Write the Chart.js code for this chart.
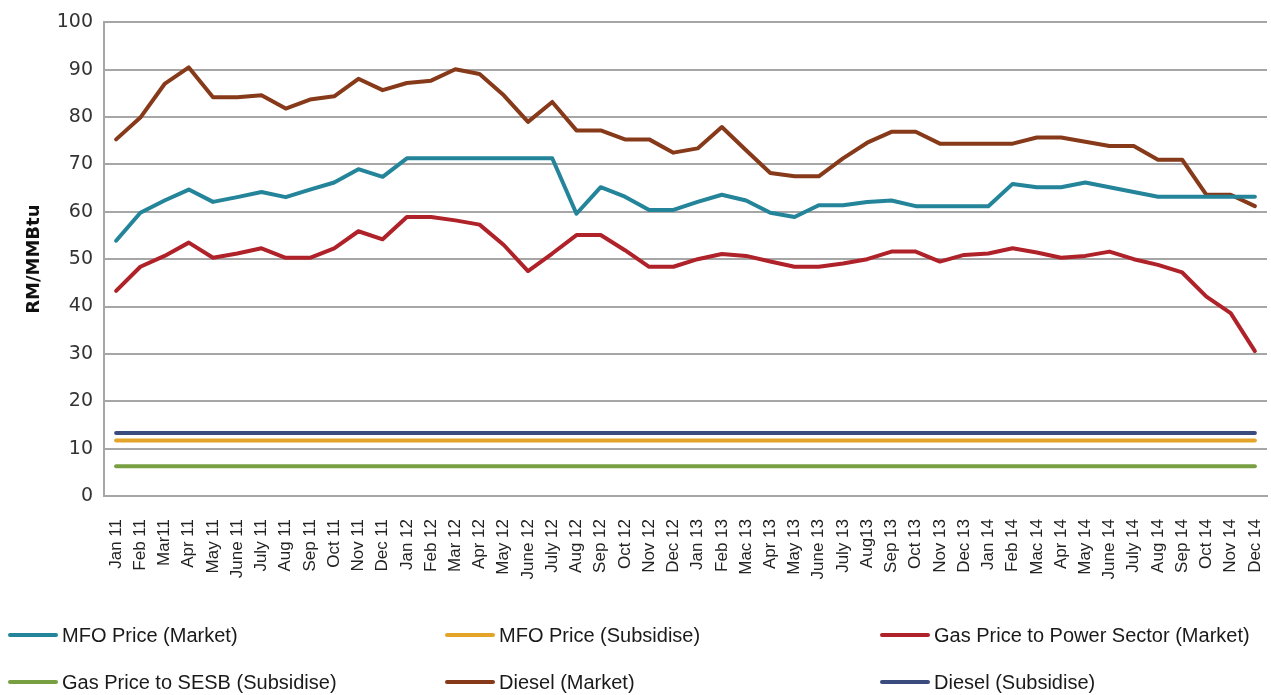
<!DOCTYPE html>
<html>
<head>
<meta charset="utf-8">
<script src="https://cdn.jsdelivr.net/npm/chart.js@4"></script>
<style>
html,body{margin:0;padding:0;background:#fff;}
#wrap{width:1271px;height:695px;}
</style>
</head>
<body>
<div id="wrap"><canvas id="c" width="1271" height="695"></canvas></div>
<script>
const months = ["Jan 11","Feb 11","Mar11","Apr 11","May 11","June 11","July 11","Aug 11","Sep 11","Oct 11","Nov 11","Dec 11",
"Jan 12","Feb 12","Mar 12","Apr 12","May 12","June 12","July 12","Aug 12","Sep 12","Oct 12","Nov 12","Dec 12",
"Jan 13","Feb 13","Mac 13","Apr 13","May 13","June 13","July 13","Aug13","Sep 13","Oct 13","Nov 13","Dec 13",
"Jan 14","Feb 14","Mac 14","Apr 14","May 14","June 14","July 14","Aug 14","Sep 14","Oct 14","Nov 14","Dec 14"];

const mfoMarket = [53.9,59.8,62.4,64.7,62.1,63.1,64.2,63.1,64.7,66.2,69.0,67.4,
71.3,71.3,71.3,71.3,71.3,71.3,71.3,59.6,65.2,63.2,60.4,60.4,
62.1,63.6,62.4,59.8,58.9,61.4,61.4,62.1,62.4,61.2,61.2,61.2,
61.2,65.9,65.2,65.2,66.2,65.2,64.2,63.2,63.2,63.2,63.2,63.2];

const mfoSubsidise = [11.7,11.7,11.7,11.7,11.7,11.7,11.7,11.7,11.7,11.7,11.7,11.7,
11.7,11.7,11.7,11.7,11.7,11.7,11.7,11.7,11.7,11.7,11.7,11.7,
11.7,11.7,11.7,11.7,11.7,11.7,11.7,11.7,11.7,11.7,11.7,11.7,
11.7,11.7,11.7,11.7,11.7,11.7,11.7,11.7,11.7,11.7,11.7,11.7];

const gasPowerMarket = [43.3,48.4,50.7,53.5,50.3,51.2,52.3,50.3,50.3,52.3,55.9,54.2,
58.9,58.9,58.2,57.3,53.0,47.5,51.2,55.1,55.1,51.9,48.4,48.4,
50.0,51.1,50.7,49.5,48.4,48.4,49.1,50.0,51.6,51.6,49.5,50.9,
51.2,52.3,51.4,50.3,50.7,51.6,50.0,48.8,47.2,42.1,38.6,30.6];

const gasSesbSubsidise = [6.3,6.3,6.3,6.3,6.3,6.3,6.3,6.3,6.3,6.3,6.3,6.3,
6.3,6.3,6.3,6.3,6.3,6.3,6.3,6.3,6.3,6.3,6.3,6.3,
6.3,6.3,6.3,6.3,6.3,6.3,6.3,6.3,6.3,6.3,6.3,6.3,
6.3,6.3,6.3,6.3,6.3,6.3,6.3,6.3,6.3,6.3,6.3,6.3];

const dieselMarket = [75.3,79.9,87.0,90.5,84.2,84.2,84.6,81.8,83.7,84.4,88.1,85.7,
87.2,87.7,90.1,89.1,84.6,79.0,83.2,77.2,77.2,75.3,75.3,72.5,
73.4,77.9,73.0,68.2,67.5,67.5,71.3,74.6,76.9,76.9,74.4,74.4,
74.4,74.4,75.7,75.7,74.8,73.9,73.9,71.0,71.0,63.6,63.6,61.2];

const dieselSubsidise = [13.3,13.3,13.3,13.3,13.3,13.3,13.3,13.3,13.3,13.3,13.3,13.3,
13.3,13.3,13.3,13.3,13.3,13.3,13.3,13.3,13.3,13.3,13.3,13.3,
13.3,13.3,13.3,13.3,13.3,13.3,13.3,13.3,13.3,13.3,13.3,13.3,
13.3,13.3,13.3,13.3,13.3,13.3,13.3,13.3,13.3,13.3,13.3,13.3];

const seriesNames = ["MFO Price (Market)","MFO Price (Subsidise)","Gas Price to Power Sector (Market)",
"Gas Price to SESB (Subsidise)","Diesel (Market)","Diesel (Subsidise)"];
const seriesColors = ["#23849A","#E4A42A","#B02229","#78A043","#873A1A","#3A4B7E"];
const yTicks = [0,10,20,30,40,50,60,70,80,90,100];
const yTitle = "RM/MMBtu";

const seriesData = [mfoMarket,mfoSubsidise,gasPowerMarket,gasSesbSubsidise,dieselMarket,dieselSubsidise];

const legendPos = [[8,635],[445,635],[880,635],[8,682],[445,682],[880,682]];

const legendPlugin = {
  id:'customLegend',
  afterDraw(chart){
    const ctx = chart.ctx;
    ctx.save();
    chart.data.datasets.forEach((ds,i)=>{
      const [x,y] = legendPos[i];
      ctx.strokeStyle = ds.borderColor;
      ctx.lineWidth = 4;
      ctx.lineCap = 'round';
      ctx.beginPath();
      ctx.moveTo(x+2,y);
      ctx.lineTo(x+48,y);
      ctx.stroke();
      ctx.fillStyle = '#1a1a1a';
      ctx.font = '20px "Liberation Sans", Arial, sans-serif';
      ctx.textBaseline = 'middle';
      ctx.textAlign = 'left';
      ctx.fillText(ds.label, x+54, y+1);
    });
    ctx.restore();
  }
};

new Chart(document.getElementById('c'), {
  type:'line',
  data:{
    labels: months,
    datasets: seriesNames.map((n,i)=>({
      label:n,
      data:seriesData[i],
      borderColor:seriesColors[i],
      backgroundColor:seriesColors[i],
      borderWidth:4,
      pointRadius:0,
      pointHoverRadius:0,
      tension:0,
      borderCapStyle:'round',
      borderJoinStyle:'round',
      fill:false
    }))
  },
  options:{
    responsive:false,
    animation:false,
    events:[],
    layout:{padding:{top:19,right:4,left:24,bottom:0}},
    plugins:{legend:{display:false},tooltip:{enabled:false},title:{display:false}},
    scales:{
      x:{
        offset:true,
        grid:{display:false, drawTicks:false},
        border:{display:true,color:'#A6A6A6',width:2},
        ticks:{
          autoSkip:false, maxRotation:90, minRotation:90,
          color:'#222', padding:23,
          font:{family:'"Liberation Sans", Arial, sans-serif', size:17}
        },
        afterFit(scale){ scale.height = 199; scale.paddingLeft = 0; scale.paddingRight = 0; }
      },
      y:{
        min:0,max:100,
        afterBuildTicks(scale){ scale.ticks = yTicks.map(v=>({value:v})); },
        grid:{color:'#A6A6A6', lineWidth:2, drawTicks:false},
        border:{display:true,color:'#A6A6A6',width:2},
        ticks:{color:'#333', padding:11,
          font:{family:'"DejaVu Sans", sans-serif', size:19}},
        title:{display:true,text:yTitle,color:'#111',
          font:{family:'"DejaVu Sans", sans-serif', size:18, weight:'bold'}, padding:{top:0,bottom:4}},
        afterFit(scale){ scale.width = 80; }
      }
    }
  },
  plugins:[legendPlugin]
});
</script>
</body>
</html>
